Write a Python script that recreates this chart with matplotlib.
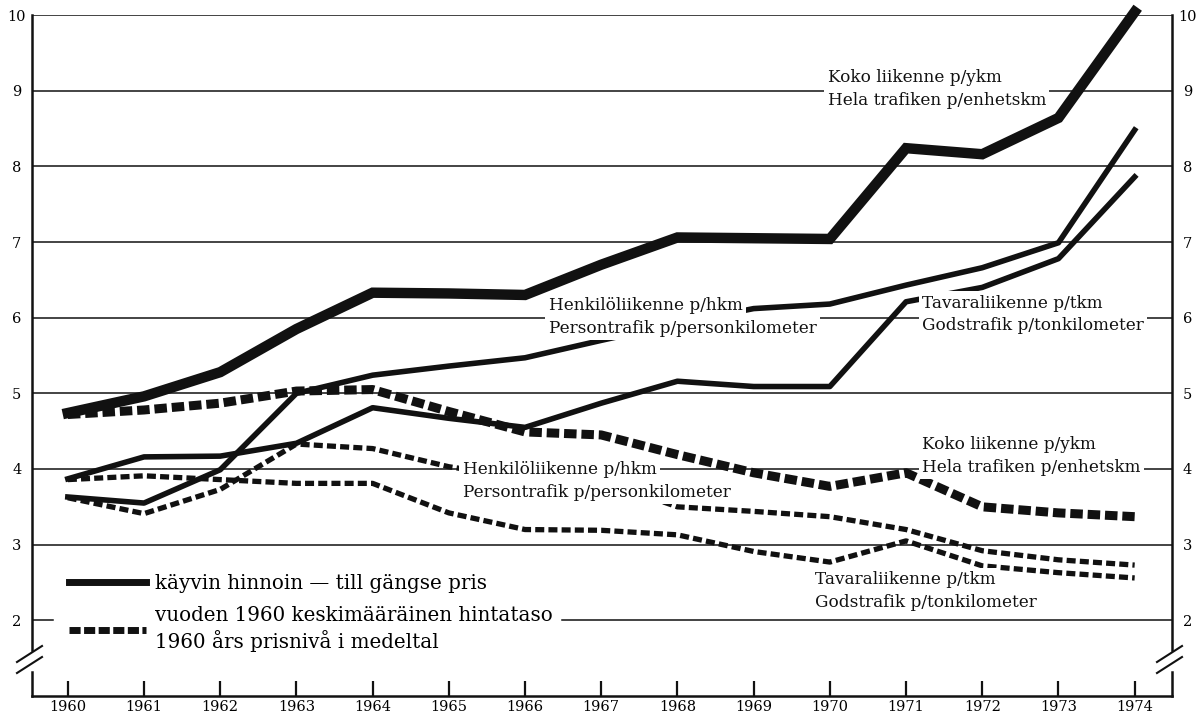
import numpy as np
import matplotlib
matplotlib.use("Agg")
import matplotlib.pyplot as plt
from matplotlib.lines import Line2D

plt.rcParams['font.family'] = ['DejaVu Serif']
plt.rcParams['lines.scale_dashes'] = False

years = np.arange(1960, 1975)

# käyvin hinnoin (current prices), p/km
koko_cur = [4.74, 4.96, 5.28, 5.85, 6.33, 6.32, 6.30, 6.70, 7.06, 7.05, 7.04, 8.24, 8.16, 8.64, 10.04]
henk_cur = [3.63, 3.55, 3.99, 5.00, 5.24, 5.36, 5.47, 5.70, 5.92, 6.12, 6.18, 6.43, 6.66, 6.99, 8.48]
tava_cur = [3.87, 4.16, 4.17, 4.34, 4.81, 4.67, 4.55, 4.87, 5.16, 5.09, 5.09, 6.21, 6.40, 6.78, 7.86]

# vuoden 1960 hintataso (1960 prices)
koko_1960 = [4.72, 4.78, 4.87, 5.03, 5.05, 4.76, 4.49, 4.45, 4.19, 3.95, 3.77, 3.95, 3.50, 3.42, 3.37]
henk_1960 = [3.62, 3.41, 3.73, 4.33, 4.27, 4.03, 3.88, 3.85, 3.50, 3.44, 3.37, 3.20, 2.92, 2.80, 2.73]
tava_1960 = [3.86, 3.91, 3.86, 3.81, 3.81, 3.42, 3.20, 3.19, 3.13, 2.91, 2.77, 3.05, 2.72, 2.63, 2.56]

yticks = [2, 3, 4, 5, 6, 7, 8, 9, 10]

koko_label = ["Koko liikenne p/ykm", "Hela trafiken p/enhetskm"]
henk_label = ["Henkilöliikenne p/hkm", "Persontrafik p/personkilometer"]
tava_label = ["Tavaraliikenne p/tkm", "Godstrafik p/tonkilometer"]
legend_labels = ["käyvin hinnoin — till gängse pris",
                 "vuoden 1960 keskimääräinen hintataso\n1960 års prisnivå i medeltal"]

ink = '#111111'

fig = plt.figure(figsize=(12.03, 7.14), dpi=100)
ax = fig.add_axes([32/1203, 1 - 696/714, 1140/1203, 681/714])
ax.set_xlim(1959.53, 1974.49)
ax.set_ylim(1.0, 10.0)

for s in ['left', 'right', 'top']:
    ax.spines[s].set_visible(False)
ax.spines['bottom'].set_linewidth(1.8)
ax.spines['bottom'].set_color(ink)

# grid lines
for v in yticks[1:]:
    ax.axhline(v, color=ink, lw=1.1, zorder=1)
ax.axhline(2, xmin=0, xmax=21/1140, color=ink, lw=1.1, zorder=1)
ax.axhline(2, xmin=530/1140, xmax=1, color=ink, lw=1.1, zorder=1)

# side axes with breaks
tr = ax.transAxes
for x0 in [0, 1]:
    ax.plot([x0, x0], [1, 46/681], color=ink, lw=1.8, transform=tr, clip_on=False)
    ax.plot([x0, x0], [24/681, 0], color=ink, lw=1.8, transform=tr, clip_on=False)
    for dy in [0, -11]:
        ax.plot([x0 - 15/1140, x0 + 10/1140], [(34 + dy)/681, (50 + dy)/681],
                color=ink, lw=1.5, transform=tr, clip_on=False)

# data lines
ax.plot(years, koko_cur, color=ink, lw=7.5, solid_joinstyle='miter', zorder=3, clip_on=False)
ax.plot(years, henk_cur, color=ink, lw=4, zorder=3)
ax.plot(years, tava_cur, color=ink, lw=4, zorder=3)
ax.plot(years, koko_1960, color=ink, lw=6.5, dashes=(9, 3.5), zorder=3)
ax.plot(years, henk_1960, color=ink, lw=3.8, dashes=(6.5, 3), zorder=3)
ax.plot(years, tava_1960, color=ink, lw=3.8, dashes=(6.5, 3), zorder=3)


# two-line labels, each line on its own white patch
def label(x, y, lines):
    box = dict(facecolor='white', edgecolor='none', pad=2.5)
    for line, dy in zip(lines, [0.15, -0.15]):
        ax.text(x, y + dy, line, fontsize=12.2, ha='left', va='center',
                color=ink, bbox=box, zorder=5)


label(1969.97, 9.02, koko_label)
label(1966.31, 6.01, henk_label)
label(1971.21, 6.04, tava_label)
label(1965.18, 3.84, henk_label)
label(1971.21, 4.17, koko_label)
label(1969.80, 2.39, tava_label)

# ticks
ax.set_xticks(years)
ax.set_xticklabels([str(y) for y in years], fontsize=10.5)
ax.tick_params(axis='x', direction='in', length=11, width=1.6, color=ink, pad=3)
ax.set_yticks(yticks)
ax.set_yticklabels([str(v) for v in yticks], fontsize=10.5)
ax.tick_params(axis='y', length=0, labelleft=True, labelright=True)
for t in ax.yaxis.get_major_ticks():
    t.label1.set_horizontalalignment('center')
    t.label2.set_horizontalalignment('center')
    t.set_pad(11)

handles = [Line2D([], [], color=ink, lw=5),
           Line2D([], [], color=ink, lw=5, dashes=(8, 2.5))]
leg = ax.legend(handles, legend_labels, loc='upper left',
                bbox_to_anchor=(33/1140, 126/681), frameon=True, fancybox=False,
                framealpha=1, edgecolor='none', fontsize=14.3, handlelength=3.9,
                handletextpad=0.45, labelspacing=0.65, borderpad=0.2, borderaxespad=0)
leg.get_texts()[1].set_linespacing(1.3)
leg.set_zorder(6)

fig.savefig('out.png', dpi=100)
